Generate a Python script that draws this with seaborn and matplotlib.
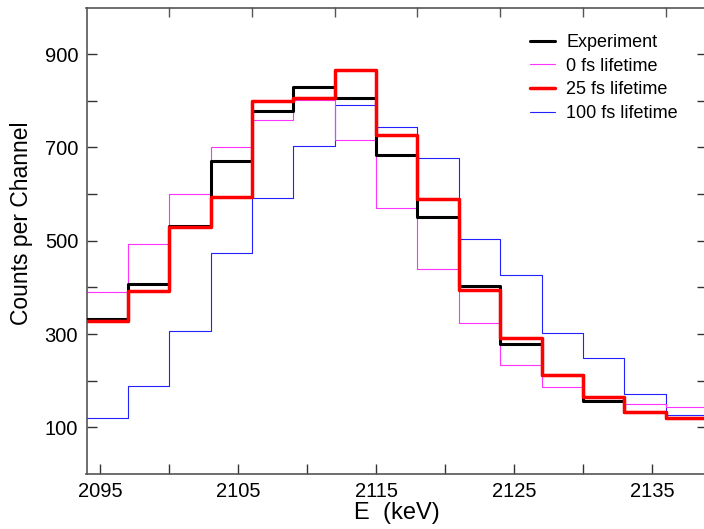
import numpy as np
import pandas as pd
import matplotlib
matplotlib.use("Agg")
import matplotlib.pyplot as plt
import seaborn as sns
from matplotlib.ticker import FixedLocator

# ---- data ----
bin_edges = [2094, 2097, 2100, 2103, 2106, 2109, 2112, 2115, 2118, 2121,
             2124, 2127, 2130, 2133, 2136, 2139]
bin_left = bin_edges[:-1]
experiment = [333, 408, 531, 670, 778, 830, 807, 683, 550, 402, 279, 212, 157, 133, 120]
life_0fs = [390, 494, 600, 702, 758, 802, 717, 570, 440, 324, 234, 186, 162, 151, 143]
life_25fs = [329, 392, 530, 594, 800, 807, 865, 727, 589, 395, 292, 213, 166, 132, 120]
life_100fs = [120, 189, 307, 474, 592, 704, 790, 744, 677, 503, 426, 302, 248, 172, 127]
labels = ["Experiment", "0 fs lifetime", "25 fs lifetime", "100 fs lifetime"]
x_ticklabels = [2095, 2105, 2115, 2125, 2135]
y_ticklabels = [100, 300, 500, 700, 900]

sns.set_theme(style="white")
plt.rcParams["font.family"] = ["Liberation Sans", "DejaVu Sans"]
plt.rcParams["text.color"] = "black"
plt.rcParams["axes.labelcolor"] = "black"
plt.rcParams["xtick.color"] = "black"
plt.rcParams["ytick.color"] = "black"

fig = plt.figure(figsize=(7.04, 5.29), dpi=100)
ax = fig.add_axes([86.5 / 704, 1 - 474 / 529, 620.5 / 704, 466.5 / 529])

series = {
    "Experiment": (experiment, "black", 2.2, 3),
    "0 fs lifetime": (life_0fs, "#ff33ff", 0.8, 2),
    "25 fs lifetime": (life_25fs, "#ff0000", 2.5, 4),
    "100 fs lifetime": (life_100fs, "#2222ff", 0.8, 1),
}
for name in labels:
    vals, col, lw, z = series[name]
    df = pd.DataFrame({"E": bin_left, "counts": vals})
    sns.histplot(data=df, x="E", weights="counts", bins=bin_edges,
                 element="step", fill=False, color=col, linewidth=lw,
                 label=name, ax=ax, zorder=z)

ax.set_xlim(2094, 2139)
ax.set_ylim(0, 1000)

ax.xaxis.set_major_locator(FixedLocator(x_ticklabels))
ax.xaxis.set_minor_locator(FixedLocator([2100, 2110, 2120, 2130]))
ax.yaxis.set_major_locator(FixedLocator(y_ticklabels))
ax.yaxis.set_minor_locator(FixedLocator([200, 400, 600, 800]))
ax.tick_params(axis="both", which="both", direction="in", length=7.5, width=1.0,
               color="#333333", labelsize=14.5, labelcolor="black",
               bottom=True, left=True, right=True, top=False)
ax.tick_params(axis="x", which="both", pad=5.5)
ax.tick_params(axis="y", which="both", pad=6)

# top ticks (secondary scale)
top = ax.secondary_xaxis("top")
top.xaxis.set_major_locator(FixedLocator([2100, 2106, 2112, 2118, 2124, 2130, 2136]))
top.tick_params(direction="in", length=7, width=1.0, color="#555555", labeltop=False)
top.spines["top"].set_visible(False)

for s in ax.spines.values():
    s.set_color("#555555")
    s.set_linewidth(1.2)
    s.set_visible(True)

ax.set_xlabel("E  (keV)", fontsize=17, labelpad=1, color="black")
ax.set_ylabel("Counts per Channel", fontsize=16.5, color="black")
ax.yaxis.set_label_coords(-0.086, (474 - 223) / 466.5)

leg = ax.legend(loc="upper left", bbox_to_anchor=(530 / 704, 1 - 34 / 529),
                bbox_transform=fig.transFigure, frameon=False, fontsize=13,
                handlelength=1.4, handletextpad=0.6, labelspacing=0.37,
                borderpad=0, borderaxespad=0)
for t in leg.get_texts():
    t.set_color("black")

fig.savefig("out.png", dpi=100)
